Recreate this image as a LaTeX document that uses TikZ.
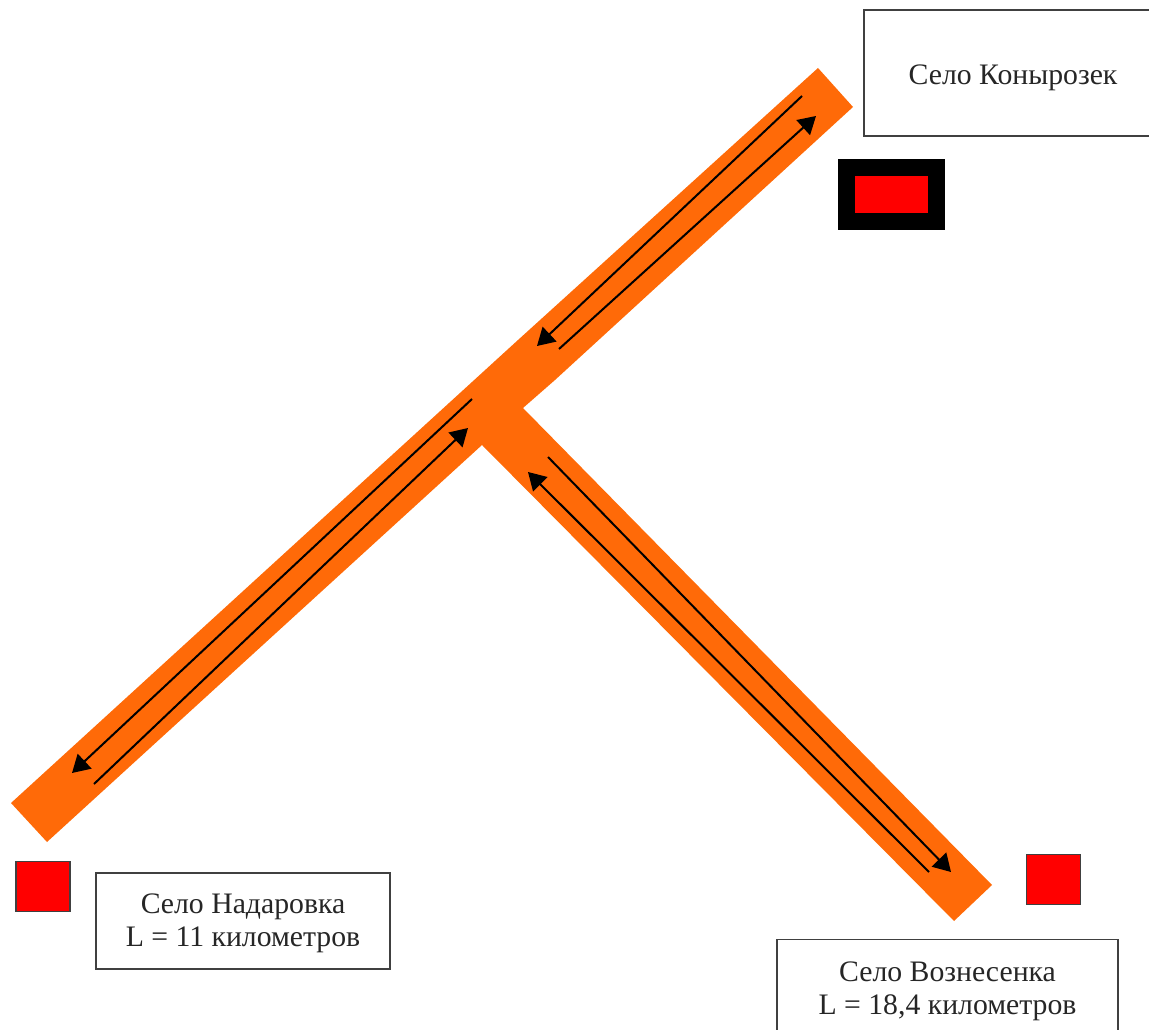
\documentclass[tikz,border=0pt]{standalone}
\usepackage{fontspec}
\usepackage{xcolor}
\setmainfont{Liberation Serif}
\usetikzlibrary{arrows.meta}
\definecolor{roadorange}{HTML}{FF6A08}

\begin{document}
\begin{tikzpicture}[x=0.75pt,y=-0.75pt]
        \tikzset{road/.style={fill=roadorange,draw=none},
            lane/.style={draw=black,line width=1.5pt,-{Triangle[length=13pt,width=15pt]}},
            village/.style={draw=black!75,line width=0.9pt,fill=white,align=center,inner sep=0pt,font=\fontsize{22.3pt}{25pt}\selectfont,text=black!85},
            marker/.style={draw=black!75,line width=0.8pt,fill=red,minimum width=40.5pt,minimum height=38pt,inner sep=0pt}}
        \clip[use as bounding box] (0,0) rectangle (1149,1030);
        \fill[road] (818,68) -- (853,107) -- (555,380) -- (523,408) -- (992,885) -- (954,921) -- (482,445) -- (47,842) -- (11,803) -- (518,340) -- cycle;
        \coordinate (topA) at (802,96);
        \coordinate (topB) at (537,346);
        \coordinate (topC) at (559,349);
        \coordinate (topD) at (816,116);
        \coordinate (leftA) at (472,399);
        \coordinate (leftB) at (72,773);
        \coordinate (leftC) at (94,784);
        \coordinate (leftD) at (468,428);
        \coordinate (rightA) at (548,457);
        \coordinate (rightB) at (951,872);
        \coordinate (rightC) at (929,872);
        \coordinate (rightD) at (528,472);
        \draw[lane] (topA) -- (topB);
        \draw[lane] (topC) -- (topD);
        \draw[lane] (leftA) -- (leftB);
        \draw[lane] (leftC) -- (leftD);
        \draw[lane] (rightA) -- (rightB);
        \draw[lane] (rightC) -- (rightD);
        \node[village,minimum width=223.5pt,minimum height=94.5pt] (konyrozek) at (1013,73) {\rule{0pt}{22.6pt}Село Конырозек};
        \node[village,minimum width=220.5pt,minimum height=72pt] (nadarovka) at (243,921) {\rule{0pt}{18.5pt}Село Надаровка\\L = 11 километров};
        \node[village,minimum width=255.75pt,minimum height=76pt] (voznesenka) at (947.5,990) {\rule{0pt}{16.6pt}Село Вознесенка\\L = 18,4 километров};
        \node[marker,draw=black,line width=12.75pt,minimum width=67.5pt,minimum height=40.5pt] (konyrozekmark) at (891,194.5) {};
        \node[marker] (nadarovkamark) at (43,886.5) {};
        \node[marker] (voznesenkamark) at (1053.5,879.5) {};
    \end{tikzpicture}
\end{document}
